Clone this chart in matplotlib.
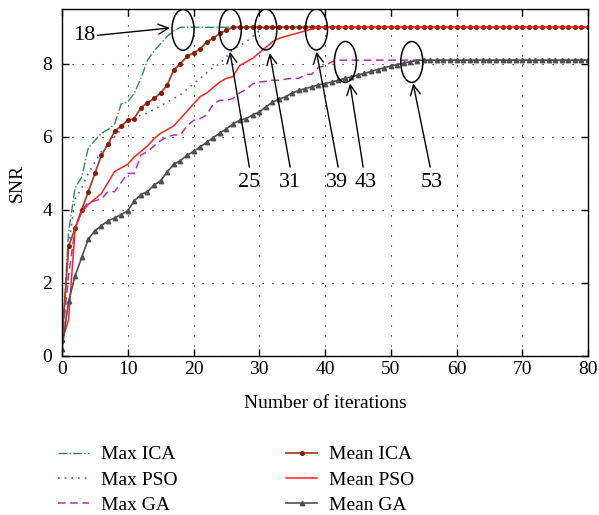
import matplotlib
matplotlib.use("Agg")
import matplotlib.pyplot as plt
from matplotlib.patches import Ellipse

plt.rcParams['font.family'] = ['Liberation Serif', 'DejaVu Serif']
plt.rcParams['mathtext.fontset'] = 'stix'

iterations = list(range(0, 81))

max_ica = [0.3, 3.4, 4.6, 4.9, 5.7, 5.9, 6.1, 6.2, 6.35, 6.9, 6.95, 7.2, 7.6, 8.1,
           8.35, 8.55, 8.75, 8.9, 9.0] + [9.0] * 62
max_pso = [0.3, 3.0, 4.3, 4.6, 5.0, 5.3, 5.6, 5.8, 6.0, 6.2, 6.4, 6.5, 6.6, 6.65,
           6.75, 6.85, 6.95, 7.05, 7.15, 7.3, 7.45, 7.6, 7.75, 7.9, 8.0, 8.2, 8.4,
           8.5, 8.6, 8.75, 8.9, 9.0] + [9.0] * 49
max_ga = [0.4, 2.2, 3.5, 4.0, 4.2, 4.25, 4.3, 4.5, 4.5, 4.75, 5.0, 5.0, 5.5, 5.6,
          5.75, 5.9, 6.0, 6.05, 6.05, 6.3, 6.45, 6.5, 6.6, 6.9, 7.0, 7.0, 7.05,
          7.2, 7.3, 7.45, 7.5, 7.52, 7.55, 7.55, 7.58, 7.6, 7.6, 7.7, 7.72, 7.9,
          7.95, 8.05, 8.1, 8.1] + [8.1] * 37
mean_ica = [0.4, 3.0, 3.5, 4.0, 4.5, 5.0, 5.5, 5.8, 6.15, 6.3, 6.45, 6.5, 6.8,
            6.93, 7.05, 7.2, 7.42, 7.83, 8.0, 8.2, 8.3, 8.4, 8.6, 8.7, 8.83, 8.92,
            9.0] + [9.0] * 54
mean_pso = [0.4, 1.0, 3.5, 3.95, 4.15, 4.3, 4.45, 4.75, 5.05, 5.15, 5.25, 5.45,
            5.6, 5.75, 5.95, 6.1, 6.2, 6.3, 6.5, 6.7, 6.9, 7.1, 7.2, 7.35, 7.5,
            7.6, 7.65, 7.95, 8.05, 8.15, 8.3, 8.45, 8.6, 8.7, 8.75, 8.8, 8.85,
            8.9, 8.95, 9.0] + [9.0] * 41
mean_ga = [0.2, 1.5, 2.2, 2.7, 3.2, 3.43, 3.57, 3.7, 3.78, 3.87, 3.98, 4.25, 4.42,
           4.5, 4.68, 4.8, 5.04, 5.25, 5.35, 5.49, 5.6, 5.72, 5.85, 5.98, 6.1,
           6.22, 6.35, 6.45, 6.5, 6.6, 6.68, 6.82, 6.95, 7.03, 7.1, 7.2, 7.27,
           7.32, 7.37, 7.42, 7.46, 7.5, 7.55, 7.6, 7.64, 7.69, 7.74, 7.79, 7.84,
           7.89, 7.94, 7.98, 8.02, 8.06, 8.09] + [8.1] * 26

# annotations: label, ellipse center (x, y), text position, arrow tail, arrow head
ann_labels = ["18", "25", "31", "39", "43", "53"]
ell_centers = [(18.4, 8.93), (25.6, 8.94), (31.0, 8.94), (38.7, 8.94), (43.1, 8.05), (53.2, 8.05)]
text_pos = [(5.0, 8.78), (28.5, 4.76), (34.7, 4.76), (41.9, 4.76), (46.2, 4.76), (56.2, 4.76)]
text_ha = ['right', 'center', 'center', 'center', 'center', 'center']
arrow_tail = [(5.4, 8.78), (28.5, 5.17), (34.7, 5.17), (42.0, 5.17), (45.8, 5.17), (56.0, 5.17)]
arrow_head = [(16.4, 8.98), (25.55, 8.33), (31.6, 8.29), (38.7, 8.33), (43.8, 7.46), (53.4, 7.46)]

fig = plt.figure(figsize=(5.99, 5.15), dpi=100)
ax = fig.add_axes([62 / 599, 1 - 356 / 515, 526 / 599, 347 / 515])

ax.plot(iterations, max_ica, color='#2e8b57', ls='-.', lw=1.0, label='Max ICA')
ax.plot(iterations, max_pso, color='#4a62c8', ls=(0, (1, 3)), lw=1.2, label='Max PSO')
ax.plot(iterations, max_ga, color='#b030b0', ls=(0, (5, 3)), lw=1.1, label='Max GA')
ax.plot(iterations, mean_ica, color='#a8402a', ls='-', lw=1.3, marker='o', ms=2.6,
        mfc='#8b1a00', mec='#8b1a00', label='Mean ICA')
ax.plot(iterations, mean_pso, color='#ff2020', ls='-', lw=1.1, label='Mean PSO')
ax.plot(iterations, mean_ga, color='#505050', ls='-', lw=1.2, marker='^', ms=3.2,
        mfc='#505050', mec='#505050', label='Mean GA')

for lab, c, t, ha, tail, head in zip(ann_labels, ell_centers, text_pos, text_ha, arrow_tail, arrow_head):
    ax.add_patch(Ellipse(c, width=3.35, height=1.12, fill=False, ec='black', lw=1.1, zorder=5))
    ax.annotate('', xy=head, xytext=tail,
                arrowprops=dict(arrowstyle='->', color='black', lw=1.0,
                                mutation_scale=18, shrinkA=0, shrinkB=0), zorder=6)
    ax.text(t[0], t[1], lab, fontsize=16, ha=ha, va='center', zorder=6)

ax.set_xlim(0, 80)
ax.set_ylim(0, 9.5)
ax.set_xticks([0, 10, 20, 30, 40, 50, 60, 70, 80])
ax.set_yticks([0, 2, 4, 6, 8])
ax.tick_params(direction='in', top=True, right=True, labelsize=14, length=5, width=1)
ax.tick_params(axis='y', pad=7)
ax.grid(True, color='black', ls=(0, (1, 8)), lw=0.8)
for s in ax.spines.values():
    s.set_linewidth(1.0)
ax.set_xlabel('Number of iterations', fontsize=14, labelpad=12)
ax.set_ylabel('SNR', fontsize=14, labelpad=12)

fig.legend(loc='upper left', bbox_to_anchor=(50 / 599, 1 - 438 / 515), ncol=2,
           frameon=False, fontsize=14, handlelength=1.6, handletextpad=0.6,
           columnspacing=5.6, labelspacing=0.4, borderaxespad=0)

fig.savefig('out.png', dpi=100)
